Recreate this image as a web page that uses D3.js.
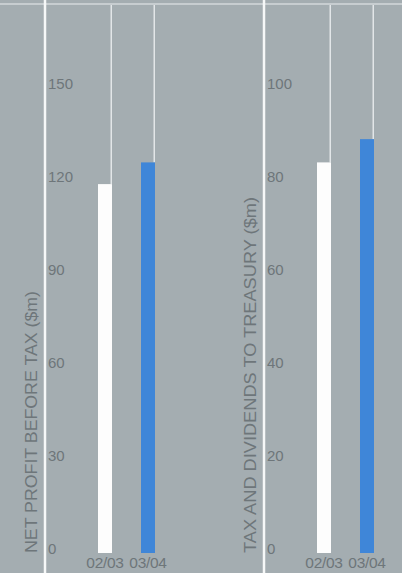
<!DOCTYPE html>
<html>
<head>
<meta charset="utf-8">
<script src="https://cdn.jsdelivr.net/npm/d3@7"></script>
<style>
  html, body { margin: 0; padding: 0; background: #a4adb1; }
  svg { display: block; }
</style>
</head>
<body>
<svg id="chart" width="402" height="573"></svg>
<script>
var years = ["02/03", "03/04"];
var profitValues = [119, 126];
var treasuryValues = [84, 89];
var profitTicks = [0, 30, 60, 90, 120, 150];
var treasuryTicks = [0, 20, 40, 60, 80, 100];

var svg = d3.select("#chart");
var W = 402, H = 573;
var barW = 14;
var barColors = ["#fdfdfd", "#3f86d8"];
var textColor = "#6e767a";

svg.append("rect").attr("width", W).attr("height", H).attr("fill", "#a4adb1");

// top rule
svg.append("line")
  .attr("x1", 0).attr("x2", W)
  .attr("y1", 4).attr("y2", 4)
  .attr("stroke", "#d3d9db").attr("stroke-width", 1.5);

var drawPanel = function(axisX, values, ticks, maxV, title, titleLen){
  var y = d3.scaleLinear().domain([0, maxV]).range([553, 88]);
  var x = d3.scalePoint().domain(years).range([axisX + 60, axisX + 103]);
  var g = svg.append("g");

  // guide lines above bars
  g.selectAll(".guide")
    .data(values)
    .enter().append("line")
      .attr("class", "guide")
      .attr("x1", function(d, i){ return x(years[i]) + barW / 2 - 0.75; })
      .attr("x2", function(d, i){ return x(years[i]) + barW / 2 - 0.75; })
      .attr("y1", 5)
      .attr("y2", function(d){ return y(d); })
      .attr("stroke", "#e2e6e8")
      .attr("stroke-width", 1.5);

  // bars
  g.selectAll(".bar")
    .data(values)
    .enter().append("rect")
      .attr("class", "bar")
      .attr("x", function(d, i){ return x(years[i]) - barW / 2; })
      .attr("y", function(d){ return y(d); })
      .attr("width", barW)
      .attr("height", function(d){ return y(0) - y(d); })
      .attr("fill", function(d, i){ return barColors[i]; });

  // thick axis line
  g.append("line")
    .attr("x1", axisX).attr("x2", axisX)
    .attr("y1", 0).attr("y2", H)
    .attr("stroke", "#f6f8f8").attr("stroke-width", 2.5);

  // tick labels
  g.selectAll(".tick")
    .data(ticks)
    .enter().append("text")
      .attr("class", "tick")
      .text(function(d){ return d; })
      .attr("x", axisX + 3)
      .attr("y", function(d){ return y(d) + 1; })
      .attr("font-family", "Liberation Sans, Arial, sans-serif")
      .attr("font-size", "15px")
      .attr("fill", textColor);

  // category labels
  g.selectAll(".cat")
    .data(years)
    .enter().append("text")
      .attr("class", "cat")
      .text(function(d){ return d; })
      .attr("x", function(d){ return x(d); })
      .attr("y", 568)
      .attr("text-anchor", "middle")
      .attr("font-family", "Liberation Sans, Arial, sans-serif")
      .attr("font-size", "15.5px")
      .attr("letter-spacing", "-0.3px")
      .attr("fill", textColor);

  // axis title
  g.append("text")
    .text(title)
    .attr("transform", "translate(" + (axisX - 8) + ",553) rotate(-90)")
    .attr("font-family", "Liberation Sans, Arial, sans-serif")
    .attr("font-size", "16.5px")
    .attr("textLength", titleLen)
    .attr("lengthAdjust", "spacingAndGlyphs")
    .attr("fill", textColor);
};

drawPanel(45, profitValues, profitTicks, 150, "NET PROFIT BEFORE TAX ($m)", 262);
drawPanel(264, treasuryValues, treasuryTicks, 100, "TAX AND DIVIDENDS TO TREASURY ($m)", 356);
</script>
</body>
</html>
